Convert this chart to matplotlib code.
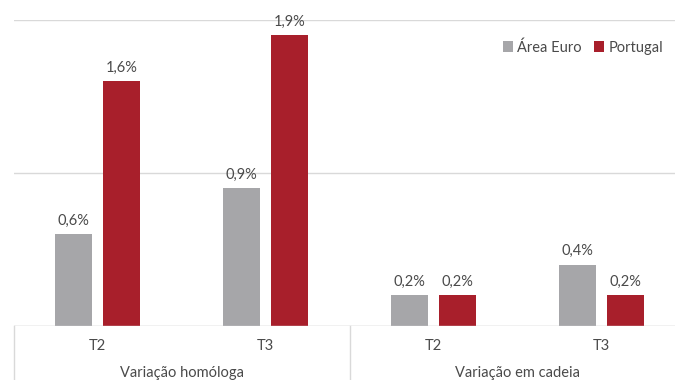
import numpy as np
import matplotlib
matplotlib.use("Agg")
import matplotlib.pyplot as plt
from matplotlib.lines import Line2D

plt.rcParams["font.family"] = ["Lato", "DejaVu Sans"]

quarters = ["T2", "T3", "T2", "T3"]
groups = ["Variação homóloga", "Variação em cadeia"]
area_euro = [0.6, 0.9, 0.2, 0.4]
portugal = [1.6, 1.9, 0.2, 0.2]
series = ["Área Euro", "Portugal"]

GREY = "#A6A6A9"
RED = "#A81F2B"
TXT = "#4A4A4A"
GRID = "#D9D9D9"

fig = plt.figure(figsize=(6.75, 3.8), dpi=100)
W, H = 675, 380
# axis spans past the right edge, like the cropped original
ax = fig.add_axes([13.5 / W, (H - 326) / H, 672 / W, 306 / H])

x = np.arange(len(quarters))
w, off = 0.22, 0.143
b1 = ax.bar(x - off, area_euro, w, color=GREY, label=series[0], zorder=3)
b2 = ax.bar(x + off, portugal, w, color=RED, label=series[1], zorder=3)
for bars, vals in ((b1, area_euro), (b2, portugal)):
    for b, v in zip(bars, vals):
        ax.annotate(f"{v:.1f}%".replace(".", ","), (b.get_x() + b.get_width() / 2, v),
                    textcoords="offset points", xytext=(0, 7), ha="center",
                    fontsize=10.5, color=TXT)

ax.set_xlim(-0.5, len(quarters) - 0.5)
ax.set_ylim(0, 2)
ax.set_yticks([0, 1, 2])
ax.yaxis.grid(True, color=GRID, lw=1, zorder=0)
ax.tick_params(left=False, labelleft=False, bottom=False, labelbottom=False)
for s in ax.spines.values():
    s.set_visible(False)
ax.axhline(0, color=GRID, lw=1, zorder=4)

for i, q in enumerate(quarters):
    ax.text(i, -0.13, q, ha="center", va="center", fontsize=10.5, color=TXT,
            clip_on=False)
for k, g in enumerate(groups):
    ax.text(2 * k + 0.5, -0.31, g, ha="center", va="center", fontsize=10.5,
            color=TXT, clip_on=False)
for xs in (-0.5, 1.5, 3.5):
    ax.add_line(Line2D([xs, xs], [0, -0.5], color=GRID, lw=1, clip_on=False))

ax.legend(loc="upper right", bbox_to_anchor=(676 / W, (H - 27) / H),
          bbox_transform=fig.transFigure, ncol=2, frameon=False, fontsize=10.5,
          handlelength=0.7, handleheight=0.7, handletextpad=0.3,
          columnspacing=0.8, labelcolor=TXT)

fig.savefig("out.png", dpi=100)
